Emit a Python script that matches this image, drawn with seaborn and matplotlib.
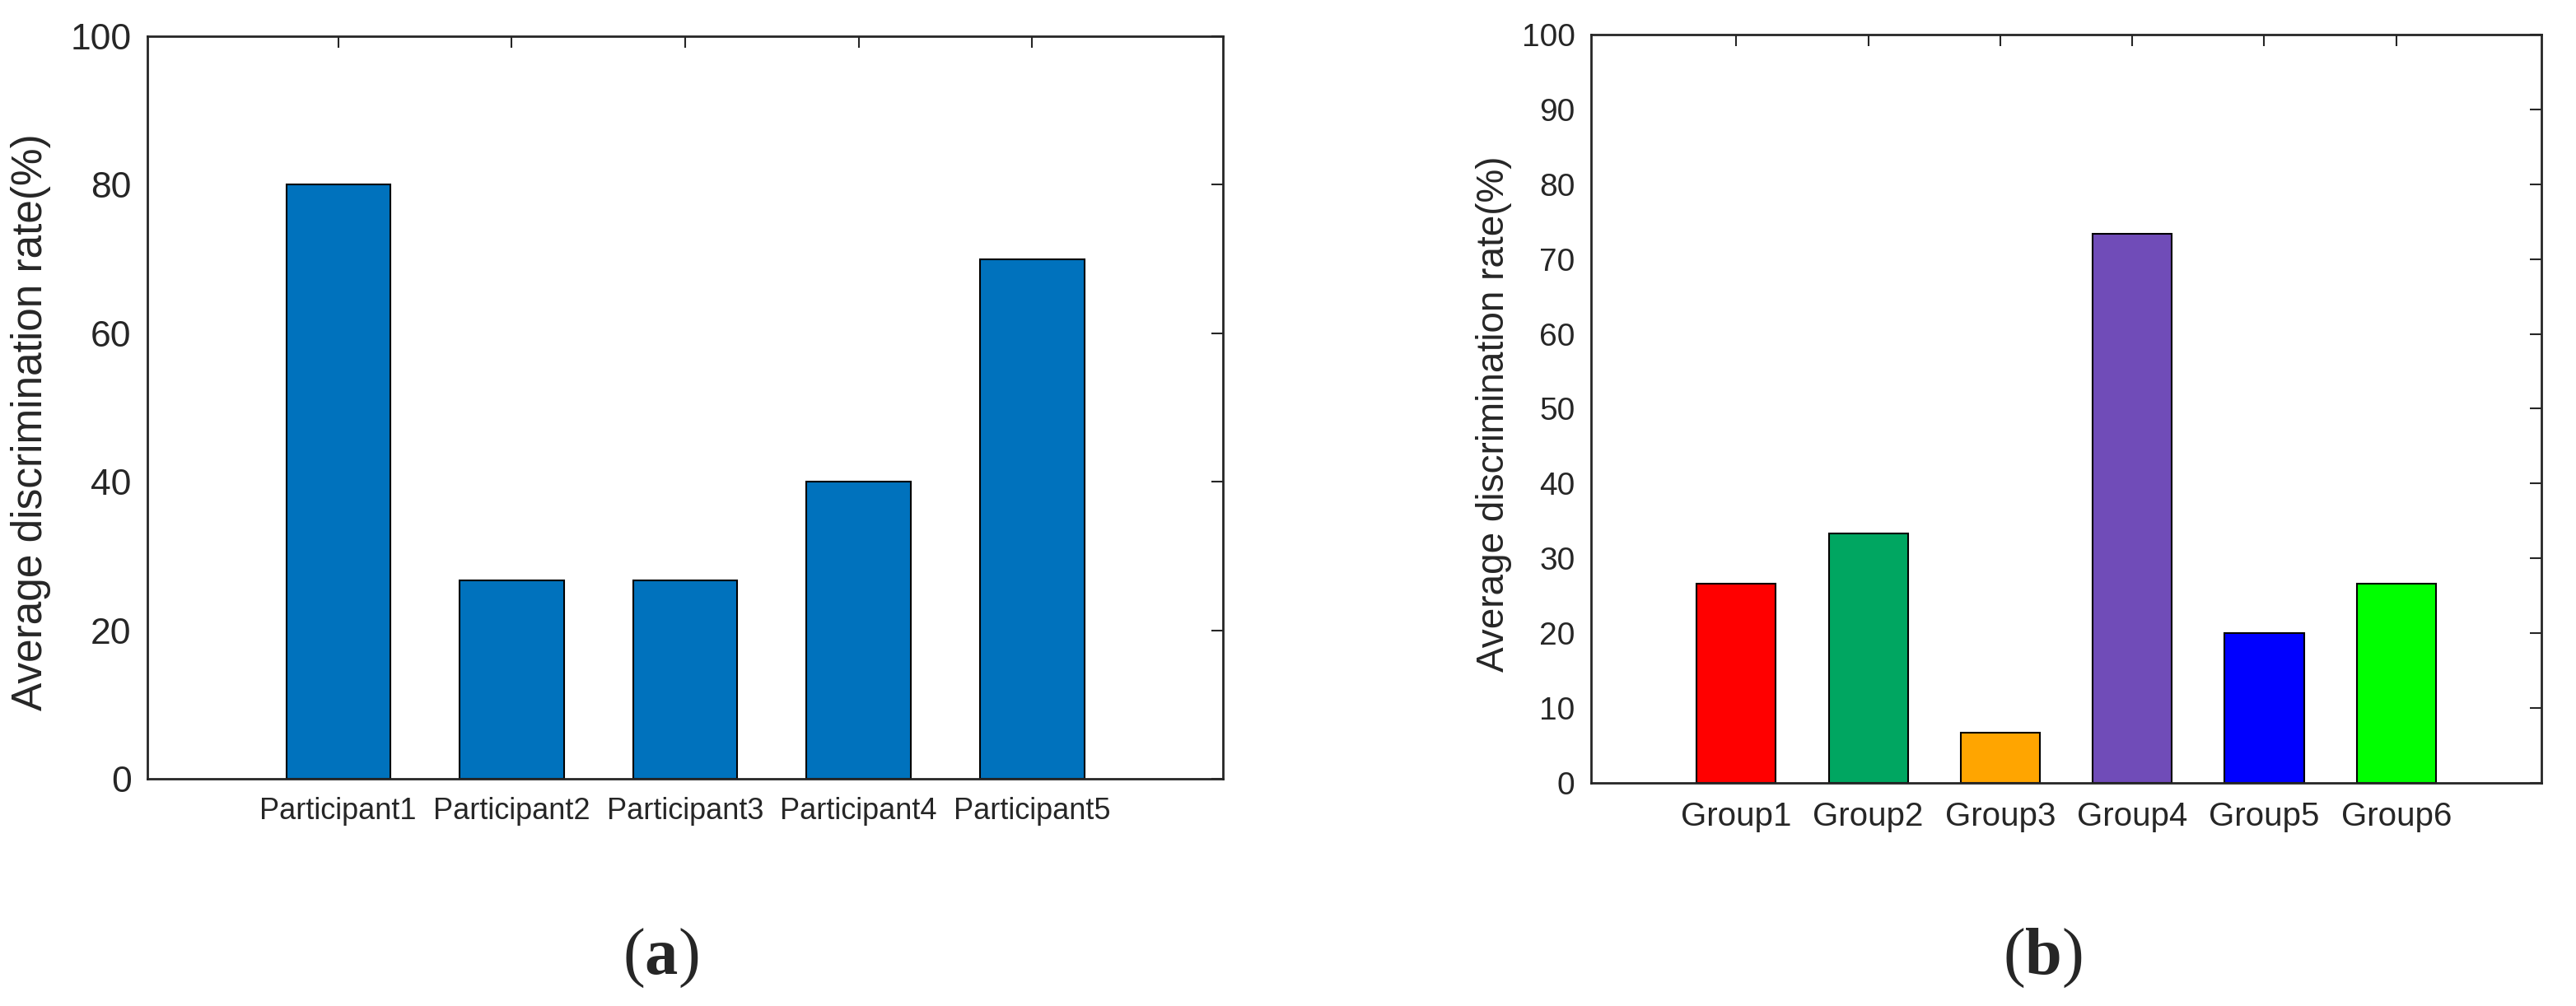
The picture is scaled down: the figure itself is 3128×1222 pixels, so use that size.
import matplotlib
matplotlib.use("Agg")
import matplotlib.pyplot as plt
import seaborn as sns
import pandas as pd

# data
participants = ["Participant1", "Participant2", "Participant3", "Participant4", "Participant5"]
participant_rates = [80.0, 26.67, 26.67, 40.0, 70.0]

groups = ["Group1", "Group2", "Group3", "Group4", "Group5", "Group6"]
group_rates = [26.67, 33.33, 6.67, 73.33, 20.0, 26.67]
group_colors = ["#FF0000", "#00A661", "#FFA500", "#704CB8", "#0000FF", "#00FF00"]

ylabel = "Average discrimination rate(%)"

sns.set_style("white")
plt.rcParams["font.family"] = ["Liberation Sans", "DejaVu Sans"]
plt.rcParams["mathtext.fontset"] = "custom"
plt.rcParams["mathtext.rm"] = "Liberation Serif"
plt.rcParams["mathtext.bf"] = "Liberation Serif:bold"

fig = plt.figure(figsize=(31.28, 12.22), dpi=100)
ax1 = fig.add_axes([0.05723, 0.22586, 0.41752, 0.73813])
ax2 = fig.add_axes([0.61765, 0.22177, 0.36893, 0.74386])

df1 = pd.DataFrame({"who": participants, "rate": participant_rates})
df2 = pd.DataFrame({"group": groups, "rate": group_rates})

sns.barplot(data=df1, x="who", y="rate", color="#0072BD", saturation=1,
            width=0.6, edgecolor="black", linewidth=1.5, ax=ax1)
sns.barplot(data=df2, x="group", y="rate", hue="group", palette=group_colors,
            saturation=1, legend=False, width=0.6, edgecolor="black",
            linewidth=1.5, ax=ax2)

def style(ax, n, yticks, xsize, ysize, lsize, lx, ly):
    ax.set_xlim(-1.1, n - 1 + 1.1)
    ax.set_ylim(0, 100)
    ax.set_yticks(yticks)
    ax.set_xlabel("")
    ax.set_ylabel(ylabel, fontsize=lsize, color="#262626", va="center")
    ax.yaxis.set_label_coords(lx, ly)
    ax.tick_params(axis="both", direction="in", top=True, right=True,
                   length=10, width=1.5, color="#262626")
    ax.tick_params(axis="x", labelsize=xsize, pad=16, labelcolor="#262626")
    ax.tick_params(axis="y", labelsize=ysize, pad=14, labelcolor="#262626")
    for s in ax.spines.values():
        s.set_visible(True)
        s.set_color("#262626")
        s.set_linewidth(2)

style(ax1, len(participants), range(0, 101, 20), 26, 32, 37, -0.108, 0.48)
style(ax2, len(groups), range(0, 101, 10), 29, 28, 33, -0.102, 0.493)

fig.text(802 / 3128, 1 - 1164 / 1222, r"($\mathbf{a}$)", fontsize=58,
         family="Liberation Serif", ha="center", va="center")
fig.text(2480 / 3128, 1 - 1164 / 1222, r"($\mathbf{b}$)", fontsize=58,
         family="Liberation Serif", ha="center", va="center")

fig.savefig("out.png", dpi=100, facecolor="white")
